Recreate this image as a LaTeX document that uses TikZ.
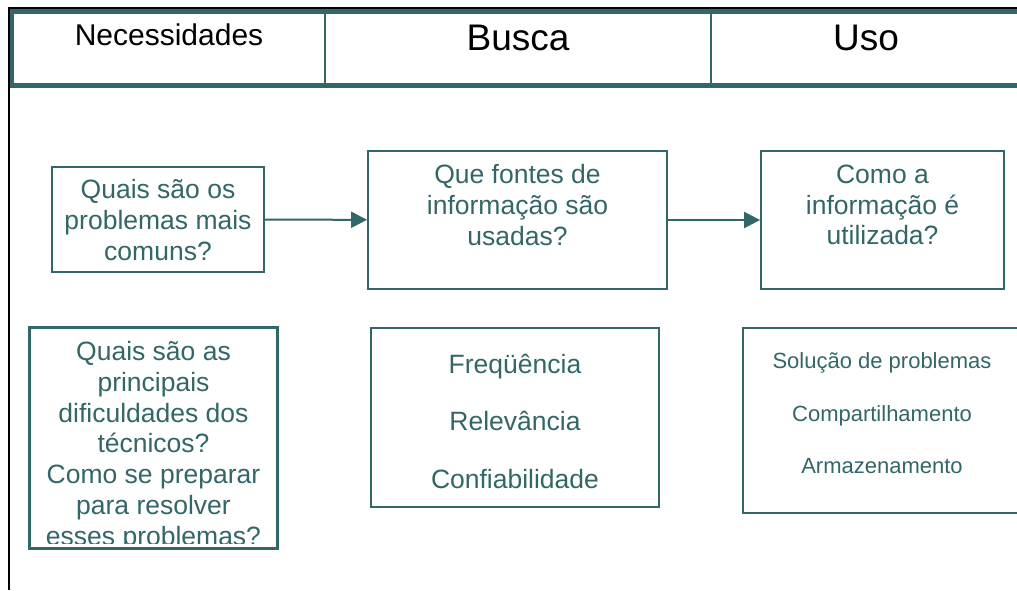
\documentclass[tikz,border=0pt]{standalone}
\usepackage{fontspec}
\setmainfont{Liberation Sans}
\usetikzlibrary{arrows.meta}
\definecolor{petrol}{RGB}{51,102,102}
\tikzstyle{caixa}=[draw=petrol, line width=1.8pt, inner sep=0pt]
\tikzstyle{celula}=[draw=petrol, line width=2pt, inner sep=0pt,
minimum height=72pt]
\tikzstyle{texto}=[text=petrol, align=center, inner sep=0pt,
font=\fontsize{26.5}{30.8}\selectfont]
\tikzstyle{titulo}=[text=black, inner sep=0pt, anchor=base]
\tikzstyle{seta}=[draw=petrol, line width=2pt,
-{Triangle[length=16pt,width=16pt]}]

\begin{document}
\begin{tikzpicture}[x=1pt, y=-1pt]
	\clip (0,0) rectangle (1017,590);
	% cabecalho
	\node[celula, minimum width=312pt] (necessidades) at (169,48.5) {};
	\node[celula, minimum width=386pt] (busca) at (518,48.5) {};
	\node[celula, minimum width=319pt] (uso) at (870.5,48.5) {};
	\draw[petrol, line width=4.5pt] (necessidades.north west) rectangle (uso.south east);
	\draw[black, line width=2pt] (9,590) -- (9,8) -- (1017,8);
	\node[titulo, font=\fontsize{30}{32}\selectfont] (t1) at (169,45) {Necessidades};
	\node[titulo, font=\fontsize{37}{40}\selectfont] (t2) at (518,50) {Busca};
	\node[titulo, font=\fontsize{37}{40}\selectfont] (t3) at (866,50) {Uso};

	% caixas de cima
	\node[caixa, minimum width=212pt, minimum height=105pt] (problemas) at (158,219.5) {};
	\node[caixa, minimum width=299pt, minimum height=138pt] (fontes) at (517.5,220) {};
	\node[caixa, minimum width=243pt, minimum height=138pt] (utilizada) at (882.5,220) {};
	\node[texto] (p1) at (158,220) {Quais são os\\problemas mais\\comuns?};
	\node[texto] (p2) at (517.5,205) {Que fontes de\\informação são\\usadas?};
	\node[texto] (p3) at (882.5,205) {Como a\\informação é\\utilizada?};

	\draw[seta] (problemas) -- (fontes);
	\draw[seta] (fontes) -- (utilizada);

	% caixas de baixo
	\node[caixa, minimum width=247pt, minimum height=220pt] (dificuldades) at (153.5,438) {};
	\begin{scope}
		\clip (dificuldades.north west) rectangle ([yshift=5pt]dificuldades.south east);
		\node[texto, anchor=north] (d1) at (153.5,341) {Quais são as\\principais\\dificuldades dos\\técnicos?\\Como se preparar\\para resolver\\esses problemas?};
	\end{scope}
	\draw[petrol, line width=1.8pt] (dificuldades.north west) rectangle (dificuldades.south east);
	\node[caixa, minimum width=288pt, minimum height=179pt] (criterios) at (515,417.5) {};
	\node[texto, font=\fontsize{26.5}{57.5}\selectfont] (c1) at (515,421) {Freqüência\\Relevância\\Confiabilidade};
	\node[caixa, minimum width=300pt, minimum height=185pt] (formas) at (893,420.5) {};
	\node[texto, font=\fontsize{22}{52.5}\selectfont] (f1) at (882,413.5) {Solução de problemas\\Compartilhamento\\Armazenamento};
\end{tikzpicture}
\end{document}
